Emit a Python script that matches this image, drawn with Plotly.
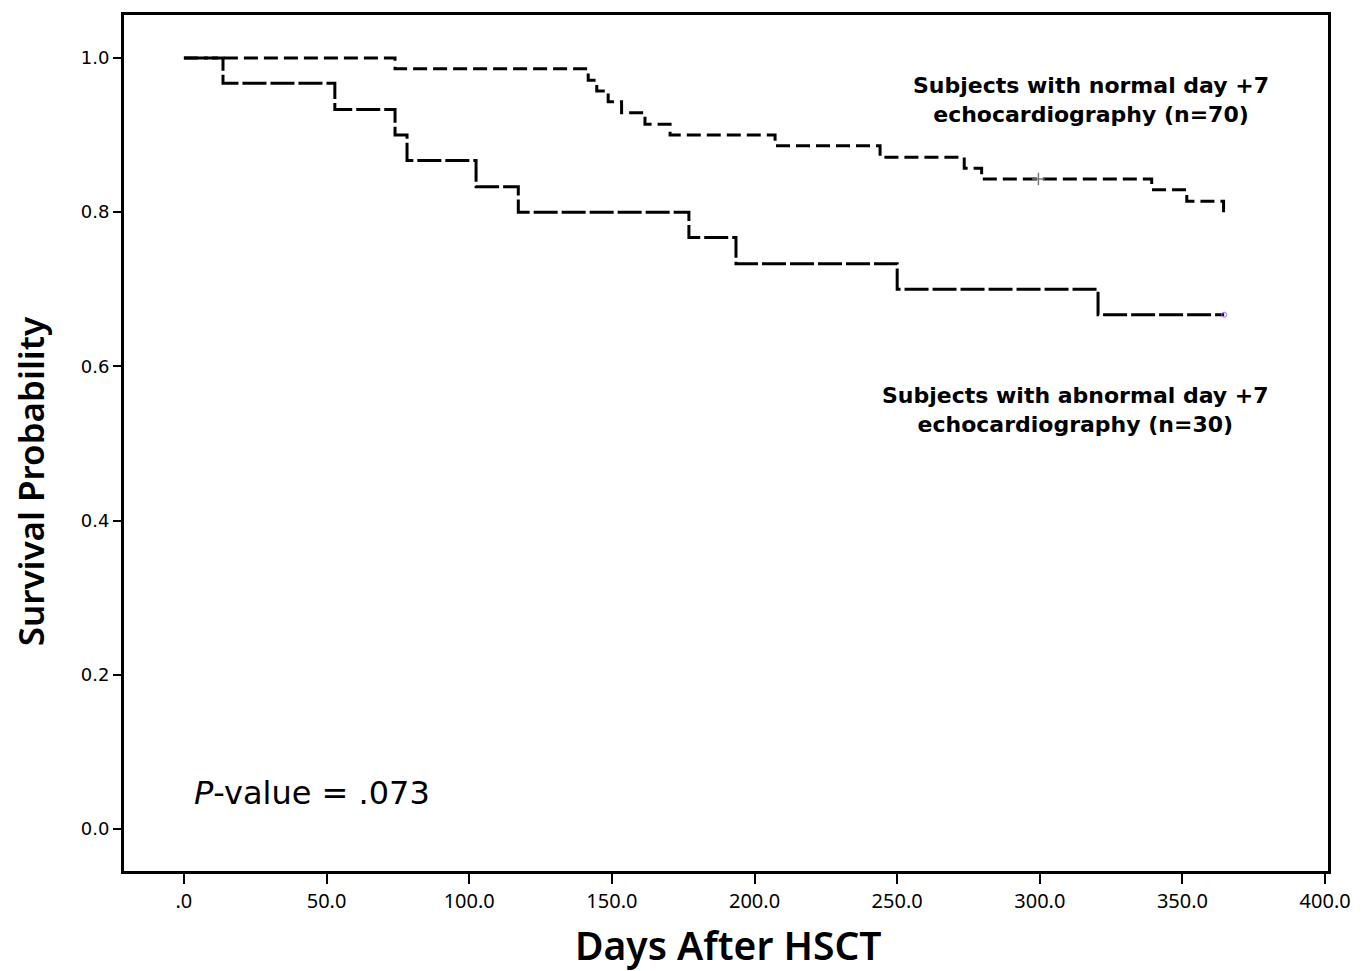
import plotly.graph_objects as go

# Kaplan-Meier step data (days after HSCT, survival probability)
normal_days = [0, 74.0, 141.7, 144.7, 148.7, 153.4, 161.6, 170.4, 207.2, 244.0, 273.5, 279.6, 339.2, 351.5, 364.4]
normal_surv = [1.0, 0.986, 0.971, 0.957, 0.943, 0.929, 0.914, 0.900, 0.886, 0.871, 0.857, 0.843, 0.829, 0.814, 0.800]

abnormal_days = [0, 13.7, 52.9, 74.0, 78.2, 102.4, 117.2, 177.0, 193.5, 250.0, 320.4, 364.6]
abnormal_surv = [1.0, 0.967, 0.933, 0.900, 0.867, 0.833, 0.800, 0.767, 0.733, 0.700, 0.667, 0.667]

# censored observations
normal_cens_days = [299.5]
normal_cens_surv = [0.843]
abnormal_cens_days = [364.6]
abnormal_cens_surv = [0.667]

x_ticks = [0, 50, 100, 150, 200, 250, 300, 350, 400]
x_tick_labels = [".0", "50.0", "100.0", "150.0", "200.0", "250.0", "300.0", "350.0", "400.0"]
y_ticks = [0.0, 0.2, 0.4, 0.6, 0.8, 1.0]
y_tick_labels = ["0.0", "0.2", "0.4", "0.6", "0.8", "1.0"]

fig = go.Figure()

fig.add_trace(go.Scatter(
    x=normal_days, y=normal_surv, mode="lines", line_shape="hv",
    line=dict(color="black", width=3, dash="14px,6px"), showlegend=False,
    name="Normal day +7 echo"))
fig.add_trace(go.Scatter(
    x=abnormal_days, y=abnormal_surv, mode="lines", line_shape="hv",
    line=dict(color="black", width=3, dash="24px,4px"), showlegend=False,
    name="Abnormal day +7 echo"))
fig.add_trace(go.Scatter(
    x=normal_cens_days, y=normal_cens_surv, mode="markers",
    marker=dict(symbol="cross-thin", size=9, line=dict(color="#777777", width=1.5)),
    showlegend=False))
fig.add_trace(go.Scatter(
    x=abnormal_cens_days, y=abnormal_cens_surv, mode="markers",
    marker=dict(symbol="circle-open", size=5, line=dict(color="#888888", width=1)),
    showlegend=False))

fig.update_layout(
    width=1363, height=963,
    margin=dict(l=116, r=43, t=4, b=100),
    plot_bgcolor="white", paper_bgcolor="white",
    font=dict(family="DejaVu Sans", color="black"),
)

fig.update_xaxes(
    range=[-21, 401], tickvals=x_ticks, ticktext=x_tick_labels,
    showgrid=False, zeroline=False, showline=True, linecolor="black", linewidth=3,
    mirror=True, ticks="outside", ticklen=10, tickwidth=1.5, tickcolor="black",
    tickfont=dict(family="Noto Sans", size=20, color="black"),
)
fig.update_yaxes(
    range=[-0.0543, 1.0556], tickvals=y_ticks, ticktext=y_tick_labels,
    showgrid=False, zeroline=False, showline=True, linecolor="black", linewidth=3,
    mirror=True, ticks="outside", ticklen=8, tickwidth=1.5, tickcolor="black",
    tickfont=dict(family="DejaVu Sans", size=18, color="black"),
)

fig.add_annotation(
    text="Subjects with normal day +7<br>echocardiography (n=70)",
    x=1091, y=97, showarrow=False,
    font=dict(family="DejaVu Sans", size=22, color="black", weight="bold"), align="center")
fig.add_annotation(
    text="Subjects with abnormal day +7<br>echocardiography (n=30)",
    x=1075, y=408, showarrow=False,
    font=dict(family="DejaVu Sans", size=22, color="black", weight="bold"), align="center")
fig.add_annotation(
    text="<i>P</i>-value = .073",
    x=312, y=793, showarrow=False,
    font=dict(family="DejaVu Sans", size=32, color="black"))
fig.add_annotation(
    text="Survival Probability", textangle=-90,
    x=30, y=480, showarrow=False,
    font=dict(family="Noto Sans", size=35, color="black", weight=600))
fig.add_annotation(
    text="Days After HSCT",
    x=728, y=945, showarrow=False,
    font=dict(family="Noto Sans", size=39, color="black", weight=600))

# convert screenshot pixel positions of annotations to paper coordinates
pl, pr, pt, pb = 124, 1328, 12, 871
for a in fig.layout.annotations:
    a.xref = "paper"
    a.yref = "paper"
    a.xanchor = "center"
    a.yanchor = "middle"
    a.x = (a.x - pl) / (pr - pl)
    a.y = (pb - a.y) / (pb - pt)

fig.write_html("out.html")
